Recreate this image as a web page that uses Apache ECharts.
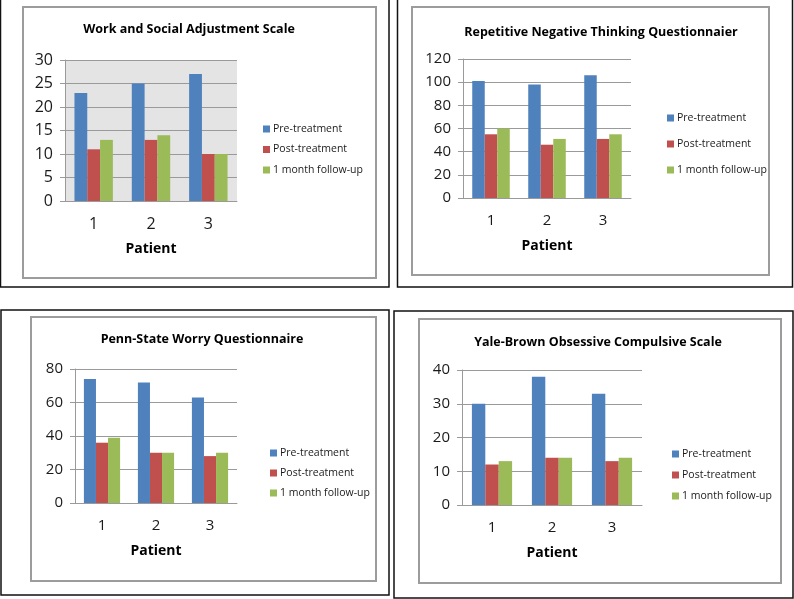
<!DOCTYPE html>
<html>
<head>
<meta charset="utf-8">
<script src="https://cdn.jsdelivr.net/npm/echarts@6/dist/echarts.min.js"></script>
<style>html,body{margin:0;padding:0;background:#fff;}#c{width:794px;height:599px;}</style>
</head>
<body>
<div id="c"></div>
<script>
const categories = ['1', '2', '3'];
const seriesNames = ['Pre-treatment', 'Post-treatment', '1 month follow-up'];
const colors = ['#4F81BD', '#C0504D', '#9BBB59'];

const titles = ['Work and Social Adjustment Scale', 'Repetitive Negative Thinking Questionnaier', 'Penn-State Worry Questionnaire', 'Yale-Brown Obsessive Compulsive Scale'];

// Work and Social Adjustment Scale
const wsasPre = [23, 25, 27];
const wsasPost = [11, 13, 10];
const wsasFollow = [13, 14, 10];
// Repetitive Negative Thinking Questionnaier
const rntqPre = [101, 98, 106];
const rntqPost = [55, 46, 51];
const rntqFollow = [60, 51, 55];
// Penn-State Worry Questionnaire
const pswqPre = [74, 72, 63];
const pswqPost = [36, 30, 28];
const pswqFollow = [39, 30, 30];
// Yale-Brown Obsessive Compulsive Scale
const ybocsPre = [30, 38, 33];
const ybocsPost = [12, 14, 13];
const ybocsFollow = [13, 14, 14];

const yMax = [30, 120, 80, 40];
const yInterval = [5, 20, 20, 10];

const panelData = [
  [wsasPre, wsasPost, wsasFollow],
  [rntqPre, rntqPost, rntqFollow],
  [pswqPre, pswqPost, pswqFollow],
  [ybocsPre, ybocsPost, ybocsFollow]
];

// layout
const grids = [
  {left: 65, top: 60, width: 172, height: 141, show: true, backgroundColor: '#e4e4e4', borderWidth: 0},
  {left: 463, top: 59, width: 168, height: 139},
  {left: 75, top: 369, width: 162, height: 134},
  {left: 462, top: 370, width: 180, height: 135}
];
const titlePos = [[189, 23], [601, 26], [202, 333], [598, 336]];
const legendPos = [[263, 122, 6.5], [667, 111, 12], [270, 446, 6], [672, 447, 7]];
const axisFont = [16, 15, 15, 15];
const outerRects = [[0.5, -2, 388.5, 289], [397.5, -2, 395, 289], [1, 310, 388, 285], [394, 311, 399, 287]];
const innerRects = [[23, 7, 353, 271], [412, 7, 357, 268], [31, 317, 345, 264], [419, 319, 362, 264]];

const FONT = 'Open Sans';
const option = {
  animation: false,
  textStyle: {fontFamily: FONT},
  grid: grids.map(g => Object.assign({containLabel: false}, g.show ? g : Object.assign({show: false}, g))),
  title: titles.map((t, i) => ({
    text: t, left: titlePos[i][0], top: titlePos[i][1], textAlign: 'center', padding: 0,
    textStyle: {fontFamily: FONT, fontSize: 12.5, fontWeight: 'bold', color: '#000'}
  })),
  legend: legendPos.map((p, i) => ({
    data: seriesNames, orient: 'vertical', left: p[0], top: p[1], itemGap: p[2],
    itemWidth: 7, itemHeight: 7, icon: 'rect', padding: 0,
    textStyle: {fontFamily: FONT, fontSize: 10.5, lineHeight: 14, color: '#1a1a1a', padding: [0, 0, 0, -2]}
  })),
  xAxis: grids.map((g, i) => ({
    type: 'category', gridIndex: i, data: categories,
    name: 'Patient', nameLocation: 'middle', nameGap: 41,
    nameTextStyle: {fontFamily: FONT, fontSize: 14, fontWeight: 'bold', color: '#000'},
    axisLine: {lineStyle: {color: '#9a9a9a', width: 1}},
    axisTick: {show: false},
    axisLabel: {fontFamily: FONT, fontSize: axisFont[i], color: '#1a1a1a', margin: 15}
  })),
  yAxis: grids.map((g, i) => ({
    type: 'value', gridIndex: i, min: 0, max: yMax[i], interval: yInterval[i],
    axisLine: {show: true, lineStyle: {color: '#9a9a9a', width: 1}},
    axisTick: {show: true, length: 5, lineStyle: {color: '#9a9a9a'}},
    splitLine: {show: true, lineStyle: {color: '#9a9a9a', width: 1}},
    axisLabel: {fontFamily: FONT, fontSize: axisFont[i], color: '#1a1a1a', margin: 12}
  })),
  series: [],
  graphic: []
};

panelData.forEach((arrs, i) => {
  arrs.forEach((vals, k) => {
    option.series.push({
      type: 'bar', name: seriesNames[k], xAxisIndex: i, yAxisIndex: i,
      data: vals, barGap: '0%', barCategoryGap: '33%',
      itemStyle: {color: colors[k]}
    });
  });
});

outerRects.forEach(r => option.graphic.push({
  type: 'rect', shape: {x: r[0], y: r[1], width: r[2], height: r[3]},
  style: {fill: 'none', stroke: '#111', lineWidth: 1.5}, silent: true
}));
innerRects.forEach(r => option.graphic.push({
  type: 'rect', shape: {x: r[0], y: r[1], width: r[2], height: r[3]},
  style: {fill: 'none', stroke: '#9c9c9c', lineWidth: 2}, silent: true
}));

const chart = echarts.init(document.getElementById('c'), null, {renderer: 'canvas'});
chart.setOption(option);
</script>
</body>
</html>
